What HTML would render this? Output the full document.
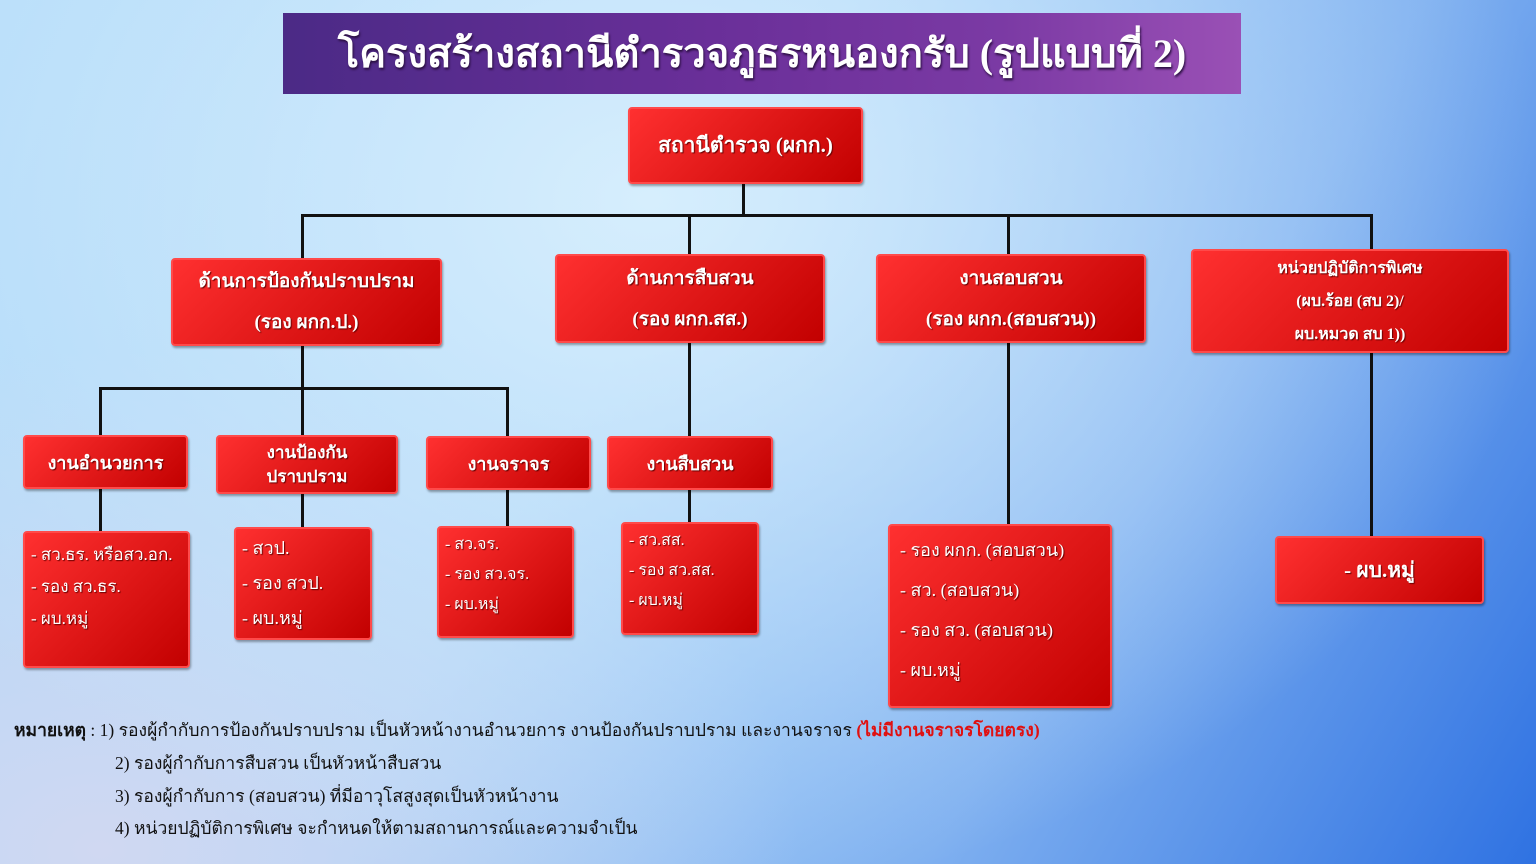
<!DOCTYPE html>
<html><head><meta charset="utf-8"><style>
*{margin:0;padding:0;box-sizing:border-box}
body{width:1536px;height:864px;overflow:hidden;position:relative;font-family:"Liberation Serif","DejaVu Sans",serif;
background:radial-gradient(ellipse 900px 700px at 650px 200px,#d6eefd 0%,rgba(214,238,253,0) 100%),radial-gradient(ellipse 700px 500px at 100px 850px,#d0d8f2 0%,rgba(208,216,242,0) 100%),linear-gradient(120deg,#b4dcf9 0%,#a9d3f8 40%,#7fb0f0 70%,#2f72e2 100%);}
.t{position:absolute;left:283px;top:13px;width:958px;height:81px;background:linear-gradient(90deg,#4b2a86 0%,#6a2f99 45%,#7b3aa4 75%,#9a50b5 100%);color:#fff;font-size:40px;text-align:center;line-height:81px;font-weight:bold;text-shadow:1px 2px 2px #2a0f40}
.b{position:absolute;background:linear-gradient(135deg,#ff3030 0%,#e01818 50%,#c20000 100%);border:2px solid #ff4a4a;border-radius:4px;box-shadow:1px 2px 2px rgba(0,0,0,.35);color:#fff;font-weight:bold;display:flex;flex-direction:column;justify-content:center;align-items:center;text-align:center;text-shadow:1px 1px 1px #600}
.l{position:absolute;background:#111}
.L{align-items:flex-start;justify-content:flex-start;text-align:left;font-weight:normal;padding-left:6px}
.n{position:absolute;font-size:17.5px;color:#111}
</style></head><body>
<div class="t">โครงสร้างสถานีตำรวจภูธรหนองกรับ (รูปแบบที่ 2)</div>
<div class="l" style="left:742px;top:183px;width:3px;height:33px"></div>
<div class="l" style="left:301px;top:214px;width:1072px;height:3px"></div>
<div class="l" style="left:301px;top:214px;width:3px;height:44px"></div>
<div class="l" style="left:688px;top:214px;width:3px;height:40px"></div>
<div class="l" style="left:1007px;top:214px;width:3px;height:40px"></div>
<div class="l" style="left:1370px;top:214px;width:3px;height:36px"></div>
<div class="l" style="left:301px;top:345px;width:3px;height:182px"></div>
<div class="l" style="left:99px;top:387px;width:410px;height:3px"></div>
<div class="l" style="left:99px;top:387px;width:3px;height:144px"></div>
<div class="l" style="left:506px;top:387px;width:3px;height:139px"></div>
<div class="l" style="left:688px;top:342px;width:3px;height:180px"></div>
<div class="l" style="left:1007px;top:342px;width:3px;height:182px"></div>
<div class="l" style="left:1370px;top:352px;width:3px;height:184px"></div>

<div class="b" style="left:628px;top:107px;width:235px;height:77px;font-size:21px">สถานีตำรวจ (ผกก.)</div>
<div class="b" style="left:171px;top:258px;width:271px;height:88px;font-size:19px;line-height:41px">ด้านการป้องกันปราบปราม<br>(รอง ผกก.ป.)</div>
<div class="b" style="left:555px;top:254px;width:270px;height:89px;font-size:19px;line-height:41px">ด้านการสืบสวน<br>(รอง ผกก.สส.)</div>
<div class="b" style="left:876px;top:254px;width:270px;height:89px;font-size:19px;line-height:41px">งานสอบสวน<br>(รอง ผกก.(สอบสวน))</div>
<div class="b" style="left:1191px;top:249px;width:318px;height:104px;font-size:16px;line-height:33px">หน่วยปฏิบัติการพิเศษ<br>(ผบ.ร้อย (สบ 2)/<br>ผบ.หมวด สบ 1))</div>

<div class="b" style="left:23px;top:435px;width:165px;height:54px;font-size:18px">งานอำนวยการ</div>
<div class="b" style="left:216px;top:435px;width:182px;height:59px;font-size:17px;line-height:24px">งานป้องกัน<br>ปราบปราม</div>
<div class="b" style="left:426px;top:436px;width:165px;height:54px;font-size:18px">งานจราจร</div>
<div class="b" style="left:607px;top:436px;width:166px;height:54px;font-size:18px">งานสืบสวน</div>

<div class="b L" style="left:23px;top:531px;width:167px;height:137px;font-size:17px;line-height:32px;padding-top:6px">- สว.ธร. หรือสว.อก.<br>- รอง สว.ธร.<br>- ผบ.หมู่</div>
<div class="b L" style="left:234px;top:527px;width:138px;height:113px;font-size:18px;line-height:35px;padding-top:2px">- สวป.<br>- รอง สวป.<br>- ผบ.หมู่</div>
<div class="b L" style="left:437px;top:526px;width:137px;height:112px;font-size:16px;line-height:30px;padding-top:2px">- สว.จร.<br>- รอง สว.จร.<br>- ผบ.หมู่</div>
<div class="b L" style="left:621px;top:522px;width:138px;height:113px;font-size:16px;line-height:30px;padding-top:2px">- สว.สส.<br>- รอง สว.สส.<br>- ผบ.หมู่</div>
<div class="b L" style="left:888px;top:524px;width:224px;height:184px;font-size:18px;line-height:40px;padding-left:10px;padding-top:4px">- รอง ผกก. (สอบสวน)<br>- สว. (สอบสวน)<br>- รอง สว. (สอบสวน)<br>- ผบ.หมู่</div>
<div class="b" style="left:1275px;top:536px;width:209px;height:68px;font-size:21px">- ผบ.หมู่</div>

<div class="n" style="left:14px;top:716px"><b>หมายเหตุ</b> : 1) รองผู้กำกับการป้องกันปราบปราม เป็นหัวหน้างานอำนวยการ งานป้องกันปราบปราม และงานจราจร <b style="color:#e01010">(ไม่มีงานจราจรโดยตรง)</b></div>
<div class="n" style="left:115px;top:749px">2) รองผู้กำกับการสืบสวน เป็นหัวหน้าสืบสวน</div>
<div class="n" style="left:115px;top:782px">3) รองผู้กำกับการ (สอบสวน) ที่มีอาวุโสสูงสุดเป็นหัวหน้างาน</div>
<div class="n" style="left:115px;top:814px">4) หน่วยปฏิบัติการพิเศษ จะกำหนดให้ตามสถานการณ์และความจำเป็น</div>
</body></html>
